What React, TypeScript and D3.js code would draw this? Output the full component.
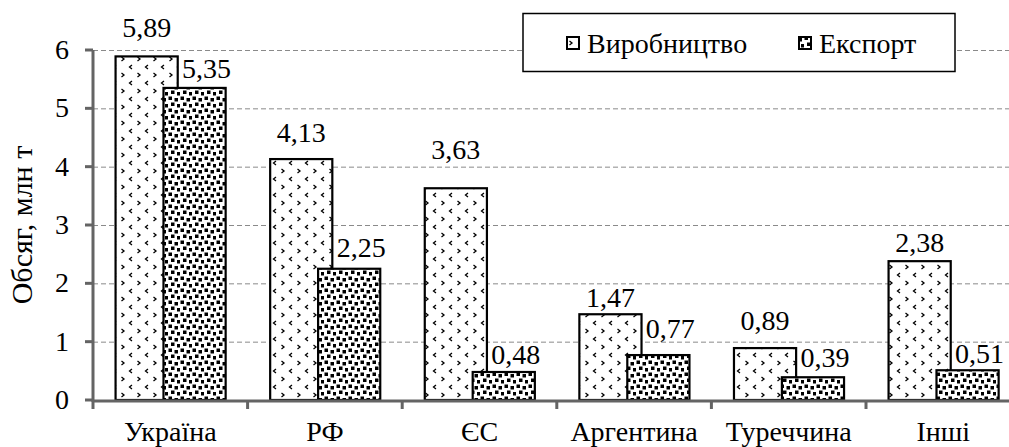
import React from 'react';
import * as d3 from 'd3';

// Data (million tonnes)
const categories = ['Україна', 'РФ', 'ЄС', 'Аргентина', 'Туреччина', 'Інші'];
const seriesNames = ['Виробництво', 'Експорт'];
const production = [5.89, 4.13, 3.63, 1.47, 0.89, 2.38];
const exportVals = [5.35, 2.25, 0.48, 0.77, 0.39, 0.51];
const yTicks = [0, 1, 2, 3, 4, 5, 6];

// label placement tweaks (px above the bar top), as in the original
const prodLift = [19, 17, 29, 7, 18, 9];
const expLift = [10, 12, 8, 17, 10, 7];

const W = 1009;
const H = 447;
const FONT = 'Liberation Serif';
const FS = 28;
const AXIS = '#646464';

const x = d3.scaleBand<string>().domain(categories).range([93, 1020.6]).padding(0);
const y = d3.scaleLinear().domain([0, 6]).range([400, 50]);
const bw = x.bandwidth();
const barW = bw * 0.402;
const sx = d3.scalePoint<string>().domain(seriesNames).range([bw * 0.347, bw * 0.657]);
const fmt = (v: number) => v.toFixed(2).replace('.', ',');

const series = [
  { name: seriesNames[0], vals: production, fill: 'url(#pat-prod)', lift: prodLift, dx: 0 },
  { name: seriesNames[1], vals: exportVals, fill: 'url(#pat-exp)', lift: expLift, dx: 12 },
];

function Label(props: { x: number; y: number; anchor?: string; children: React.ReactNode; size?: number; transform?: string }) {
  return (
    <text
      x={props.x}
      y={props.y}
      transform={props.transform}
      textAnchor={props.anchor || 'middle'}
      fontFamily={FONT}
      fontSize={props.size || FS}
      fill="#000"
    >
      {props.children}
    </text>
  );
}

export default function App() {
  const xTicks = [...categories.map(c => x(c) as number), 93 + bw * 6];
  return (
    <svg width={W} height={H} style={{ position: 'absolute', left: 0, top: 0, background: '#fff' }}>
      <defs>
        <pattern id="pat-prod" patternUnits="userSpaceOnUse" width={16} height={16}>
          <rect width={16} height={16} fill="#fff" />
          <path d="M4,1 L1.5,3 L4,5" fill="none" stroke="#000" strokeWidth={1.3} />
          <path d="M9.5,9 L12,11 L9.5,13" fill="none" stroke="#000" strokeWidth={1.3} />
        </pattern>
        <pattern id="pat-exp" patternUnits="userSpaceOnUse" width={12} height={12}>
          <rect width={12} height={12} fill="#fff" />
          {[[0.5, 0.5], [6.5, 2], [3, 6.5], [9, 8]].map(([a, b], i) => (
            <rect key={i} x={a} y={b} width={3.5} height={3.5} fill="#000" />
          ))}
        </pattern>
      </defs>

      {/* gridlines */}
      {yTicks.filter(d => d > 0).map(d => (
        <line key={d} x1={93} x2={W} y1={y(d) + 0.5} y2={y(d) + 0.5}
          stroke="#8a8a8a" strokeWidth={1} strokeDasharray="5,3" />
      ))}

      {/* bars */}
      {series.map(s => (
        <g key={s.name}>
          {s.vals.map((v, i) => (
            <rect key={i}
              x={(x(categories[i]) as number) + (sx(s.name) as number) - barW / 2}
              y={y(v)}
              width={barW}
              height={y(0) - y(v)}
              fill={s.fill}
              stroke="#000"
              strokeWidth={2.2}
            />
          ))}
        </g>
      ))}

      {/* value labels */}
      {series.map(s => (
        <g key={s.name + '-lbl'}>
          {s.vals.map((v, i) => (
            <Label key={i}
              x={(x(categories[i]) as number) + (sx(s.name) as number) + s.dx}
              y={y(v) - s.lift[i]}>
              {fmt(v)}
            </Label>
          ))}
        </g>
      ))}

      {/* x axis */}
      <line x1={92} x2={W} y1={401} y2={401} stroke={AXIS} strokeWidth={3} />
      {xTicks.map((t, i) => (
        <line key={i} x1={t} x2={t} y1={401} y2={409} stroke={AXIS} strokeWidth={3} />
      ))}
      {categories.map(c => (
        <Label key={c} x={(x(c) as number) + bw / 2} y={441}>{c}</Label>
      ))}

      {/* y axis */}
      <line x1={93} x2={93} y1={y(6)} y2={402} stroke={AXIS} strokeWidth={3} />
      {yTicks.map(t => (
        <g key={t}>
          <line x1={85} x2={93} y1={y(t)} y2={y(t)} stroke={AXIS} strokeWidth={3} />
          <Label x={69} y={y(t) + 9} anchor="end">{t}</Label>
        </g>
      ))}
      <Label x={0} y={0} size={30} transform="translate(32,225) rotate(-90)">Обсяг, млн т</Label>

      {/* legend */}
      <rect x={523} y={13.5} width={432} height={58} fill="#fff" stroke="#000" strokeWidth={1.5} />
      {series.map((s, i) => {
        const symX = i === 0 ? 567 : 799;
        return (
          <g key={s.name + '-leg'}>
            <rect x={symX} y={37} width={12} height={12} fill={s.fill} stroke="#000" strokeWidth={2} />
            <Label x={symX + 20} y={53} anchor="start">{s.name}</Label>
          </g>
        );
      })}
    </svg>
  );
}
